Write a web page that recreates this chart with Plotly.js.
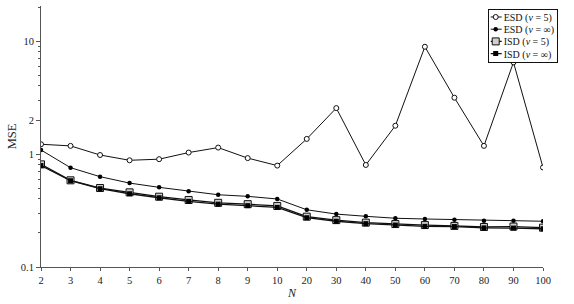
<!DOCTYPE html>
<html>
<head>
<meta charset="utf-8">
<script src="https://cdn.plot.ly/plotly-3.0.1.min.js"></script>
<style>html,body{margin:0;padding:0;background:#fff;}#chart{width:574px;height:304px;}</style>
</head>
<body>
<div id="chart"></div>
<script>
const categories = ["2","3","4","5","6","7","8","9","10","20","30","40","50","60","70","80","90","100"];
const esd5   = [1.22,1.18,0.98,0.88,0.90,1.03,1.14,0.92,0.79,1.36,2.55,0.80,1.78,8.9,3.15,1.18,6.48,0.76];
const esdInf = [1.085,0.757,0.63,0.553,0.507,0.468,0.436,0.422,0.40,0.321,0.294,0.281,0.27,0.266,0.262,0.257,0.257,0.254];
const isd5   = [0.81,0.585,0.50,0.458,0.419,0.392,0.37,0.36,0.347,0.279,0.26,0.247,0.24,0.235,0.231,0.226,0.228,0.223];
const isdInf = [0.79,0.58,0.493,0.445,0.41,0.381,0.36,0.349,0.337,0.273,0.254,0.242,0.235,0.229,0.228,0.222,0.221,0.218];
const names = ["ESD (<i>ν</i> = 5)","ESD (<i>ν</i> = ∞)","ISD (<i>ν</i> = 5)","ISD (<i>ν</i> = ∞)"];
const yTicks = [0.1,1,2,10];
const yTickText = ["0.1","1","2","10"];
const yMinor = [0.2,0.3,0.4,0.5,0.6,0.7,0.8,0.9,3,4,5,6,7,8,9,20];

const FAM = "Liberation Serif";
const font = {family: FAM, color: "#222", size: 11};

const traces = [
  {x: categories, y: esd5, name: names[0], mode: "lines+markers",
   line: {color: "#111", width: 1},
   marker: {symbol: "circle", size: 5, color: "#fff", line: {color: "#111", width: 1}}},
  {x: categories, y: esdInf, name: names[1], mode: "lines+markers",
   line: {color: "#111", width: 1},
   marker: {symbol: "circle", size: 4.5, color: "#000", line: {color: "#000", width: 0}}},
  {x: categories, y: isd5, name: names[2], mode: "lines+markers",
   line: {color: "#111", width: 1.3},
   marker: {symbol: "square", size: 7, color: "#cfcfcf", line: {color: "#111", width: 1}}},
  {x: categories, y: isdInf, name: names[3], mode: "lines+markers",
   line: {color: "#111", width: 1.3},
   marker: {symbol: "square", size: 5, color: "#000", line: {color: "#000", width: 0}}}
];

const layout = {
  width: 574, height: 304,
  margin: {l: 41, r: 13, t: 6, b: 37},
  paper_bgcolor: "#fff", plot_bgcolor: "#fff",
  font: font,
  showlegend: true,
  legend: {x: 0.855, y: 0.995, xanchor: "left", yanchor: "top",
           bgcolor: "#fff", bordercolor: "#111", borderwidth: 1,
           font: {family: FAM, size: 10, color: "#111"},
           tracegroupgap: 0, itemwidth: 30},
  xaxis: {type: "category", range: [0, 17], showgrid: false, zeroline: false,
          showline: true, linecolor: "#555", linewidth: 1,
          ticks: "outside", ticklen: 3, tickcolor: "#555",
          tickfont: {family: FAM, size: 10.5, color: "#222"},
          title: {text: "<i>N</i>", font: {family: FAM, size: 12, color: "#222"}, standoff: 4}},
  yaxis: {type: "log", range: [-1, 1.31], showgrid: false, zeroline: false,
          showline: true, linecolor: "#555", linewidth: 1,
          ticks: "outside", ticklen: 4, tickcolor: "#555",
          tickmode: "array", tickvals: yTicks, ticktext: yTickText,
          tickfont: {family: FAM, size: 10.5, color: "#222"},
          minor: {tickmode: "array", tickvals: yMinor, ticks: "outside", ticklen: 2, tickcolor: "#555", showgrid: false},
          title: {text: "MSE", font: {family: FAM, size: 12.5, color: "#222"}, standoff: 1}}
};

Plotly.newPlot("chart", traces, layout, {displayModeBar: false, staticPlot: true}).then(function(gd) {
  // compact the legend to match the reference's tight legend box
  const leg = gd.querySelector("g.legend");
  if (!leg) return;
  const items = leg.querySelectorAll("g.traces");
  const rowH = 12.2, pad = 2, txtX = 14;
  let maxW = 0;
  items.forEach(function(it, i) {
    it.setAttribute("transform", "translate(" + pad + "," + (pad + 6 + i * rowH) + ")");
    it.querySelectorAll("g.legendlines path").forEach(function(p) { p.setAttribute("d", "M1,0h11"); });
    it.querySelectorAll("g.legendpoints path").forEach(function(p) { p.setAttribute("transform", "translate(6,0)"); });
    const t = it.querySelector("text.legendtext");
    if (t) {
      t.setAttribute("x", txtX);
      maxW = Math.max(maxW, t.getBBox().width);
    }
  });
  const bg = leg.querySelector("rect.bg");
  const W = pad + txtX + maxW + 3, H = 2 * pad + items.length * rowH;
  if (bg) { bg.setAttribute("width", W); bg.setAttribute("height", H); }
  leg.setAttribute("transform", "translate(" + (557 - W) + ",9)");
});
</script>
</body>
</html>
